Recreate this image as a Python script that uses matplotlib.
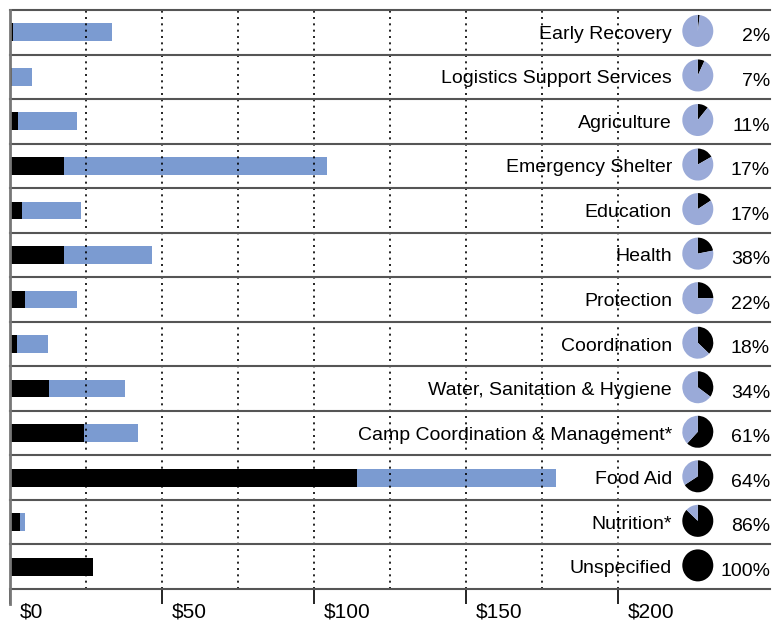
import matplotlib
matplotlib.use("Agg")
import matplotlib.pyplot as plt
import matplotlib.transforms as mtransforms

plt.rcParams['font.family'] = ['Liberation Sans', 'DejaVu Sans']

# funding by sector (millions of $): funded part and total requirement
sectors = ["Early Recovery", "Logistics Support Services", "Agriculture",
           "Emergency Shelter", "Education", "Health", "Protection",
           "Coordination", "Water, Sanitation & Hygiene",
           "Camp Coordination & Management*", "Food Aid", "Nutrition*",
           "Unspecified"]
total = [33.4, 7.2, 22.0, 104.3, 23.3, 46.6, 22.0, 12.5, 37.7, 42.2, 179.7, 4.9, 27.2]
funded = [1.0, 0.6, 2.6, 17.7, 3.9, 17.7, 4.9, 2.3, 12.8, 24.3, 114.1, 3.3, 27.2]
pie_share = [0.02, 0.07, 0.11, 0.17, 0.16, 0.22, 0.25, 0.37, 0.35, 0.62, 0.66, 0.87, 1.0]
pct_labels = ["2%", "7%", "11%", "17%", "17%", "38%", "22%", "18%", "34%",
              "61%", "64%", "86%", "100%"]
ticks = [0, 50, 100, 150, 200]
tick_labels = ["$0", "$50", "$100", "$150", "$200"]
grid_x = [25, 50, 75, 100, 125, 150, 175, 200]

W, H = 772, 622
fig = plt.figure(figsize=(W / 100, H / 100), dpi=100)
ax = fig.add_axes([10 / W, (H - 589) / H, 760 / W, 579 / H])

bar_blue = "#7b9bd1"
pie_blue = "#9aaad8"
n = len(sectors)
rows = list(range(n))
rest = [t - f for t, f in zip(total, funded)]

ax.barh(rows, funded, height=0.4, color="black", zorder=2)
ax.barh(rows, rest, left=funded, height=0.4, color=bar_blue, zorder=2)

ax.set_xlim(0, 760 / 3.04)
ax.set_ylim(n - 0.5, -0.5)

for g in grid_x:
    ax.axvline(g, color="black", lw=1.2, ls=(0, (1.2, 2.6)), zorder=3)
for k in range(n + 1):
    ax.axhline(k - 0.5, color="#555555", lw=1.5, zorder=4, clip_on=False)

for s in ["top", "right", "bottom", "left"]:
    ax.spines[s].set_visible(False)
ax.plot([0, 0], [1, -15 / 579], transform=ax.transAxes, color="#777777",
        lw=2, clip_on=False, zorder=5)

ax.set_yticks([])
ax.set_xticks(ticks)
ax.set_xticklabels(tick_labels, fontsize=15)
ax.tick_params(axis="x", direction="out", length=11, width=1.2, pad=-1)
offset = mtransforms.ScaledTranslation(0.1, 0, fig.dpi_scale_trans)
for lab in ax.get_xticklabels():
    lab.set_horizontalalignment("left")
    lab.set_transform(lab.get_transform() + offset)

trans = mtransforms.blended_transform_factory(ax.transAxes, ax.transData)
for i in rows:
    ax.text(0.871, i, sectors[i], transform=trans, ha="right",
            va="center_baseline", fontsize=14, zorder=6)
    ax.text(1.0, i + 0.06, pct_labels[i], transform=trans, ha="right",
            va="center_baseline", fontsize=14, zorder=6)

# small pies for the funded share
inv = fig.transFigure.inverted()
for i in rows:
    px = ax.transAxes.transform((0.905, 0))[0]
    py = ax.transData.transform((0, i - 0.03))[1]
    cx, cy = inv.transform((px, py))
    pw, ph = 31 / W, 32 / H
    pax = fig.add_axes([cx - pw / 2, cy - ph / 2, pw, ph])
    pax.pie([pie_share[i], 1 - pie_share[i]], colors=["black", pie_blue],
            startangle=90, counterclock=False,
            wedgeprops=dict(linewidth=0))
    pax.set_aspect("auto")
    pax.set_xlim(-1, 1)
    pax.set_ylim(-1, 1)
    pax.axis("off")

fig.savefig("out.png", dpi=100)
